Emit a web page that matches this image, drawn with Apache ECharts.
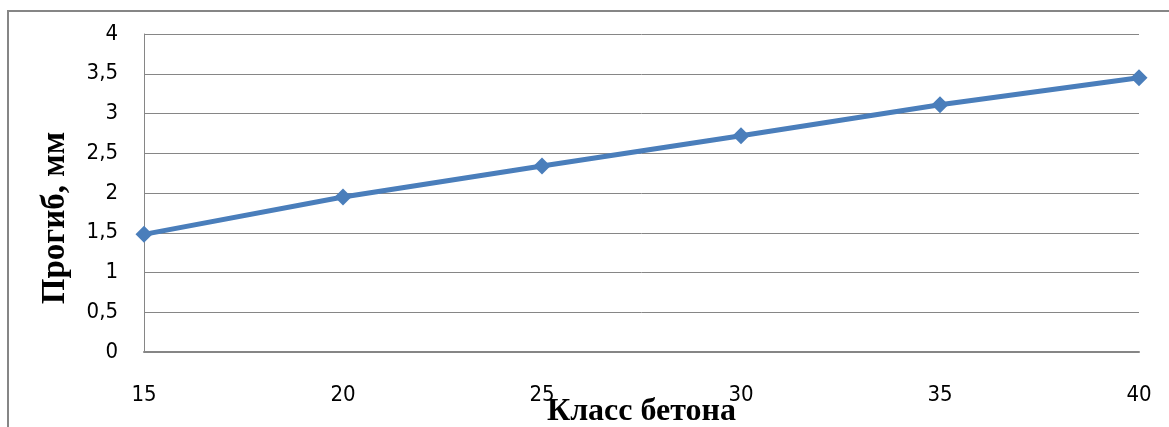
<!DOCTYPE html>
<html><head><meta charset="utf-8">
<script src="https://cdn.jsdelivr.net/npm/echarts@6/dist/echarts.min.js"></script>
<style>html,body{margin:0;padding:0;background:#fff}#c{width:1169px;height:427px}</style>
</head><body><div id="c"></div>
<script>
var categories = ['15','20','25','30','35','40'];
var values = [1.48, 1.95, 2.34, 2.72, 3.11, 3.45];
var yTitle = 'Прогиб, мм';
var xTitle = 'Класс бетона';
var chart = echarts.init(document.getElementById('c'));
var labelFont = "'DejaVu Sans Condensed', 'Liberation Sans', sans-serif";
chart.setOption({
  animation: false,
  graphic: [{type:'rect', shape:{x:8,y:11,width:1200,height:450}, style:{fill:'none', stroke:'#868686', lineWidth:2}, silent:true, z:-1}],
  grid: {left:144, right:30, top:34, bottom:75, containLabel:false, outerBoundsMode:'none'},
  xAxis: {
    type:'category', data:categories, boundaryGap:false,
    name:xTitle, nameLocation:'middle', nameGap:44, nameMoveOverlap:false,
    nameTextStyle:{fontFamily:'Liberation Serif', fontWeight:'bold', fontSize:32, color:'#000'},
    axisLine:{lineStyle:{color:'#868686', width:2}}, axisTick:{show:false},
    axisLabel:{margin:32, fontFamily:labelFont, fontSize:22, color:'#000'},
    splitLine:{show:false}
  },
  yAxis: {
    type:'value', min:0, max:4, interval:0.5,
    name:yTitle, nameLocation:'middle', nameGap:72, nameMoveOverlap:false,
    nameTextStyle:{fontFamily:'Liberation Serif', fontWeight:'bold', fontSize:33, color:'#000', padding:[0,50,0,0]},
    axisLine:{show:true, lineStyle:{color:'#868686', width:1}}, axisTick:{show:false},
    axisLabel:{margin:26, fontFamily:labelFont, fontSize:22, color:'#000', formatter:function(v){return String(v).replace('.',',');}},
    splitLine:{lineStyle:{color:'#868686', width:1}}
  },
  series: [{
    type:'line', data:values, symbol:'diamond', symbolSize:17,
    lineStyle:{color:'#4a7ebb', width:5}, itemStyle:{color:'#4a7ebb'}
  }]
});
</script></body></html>
